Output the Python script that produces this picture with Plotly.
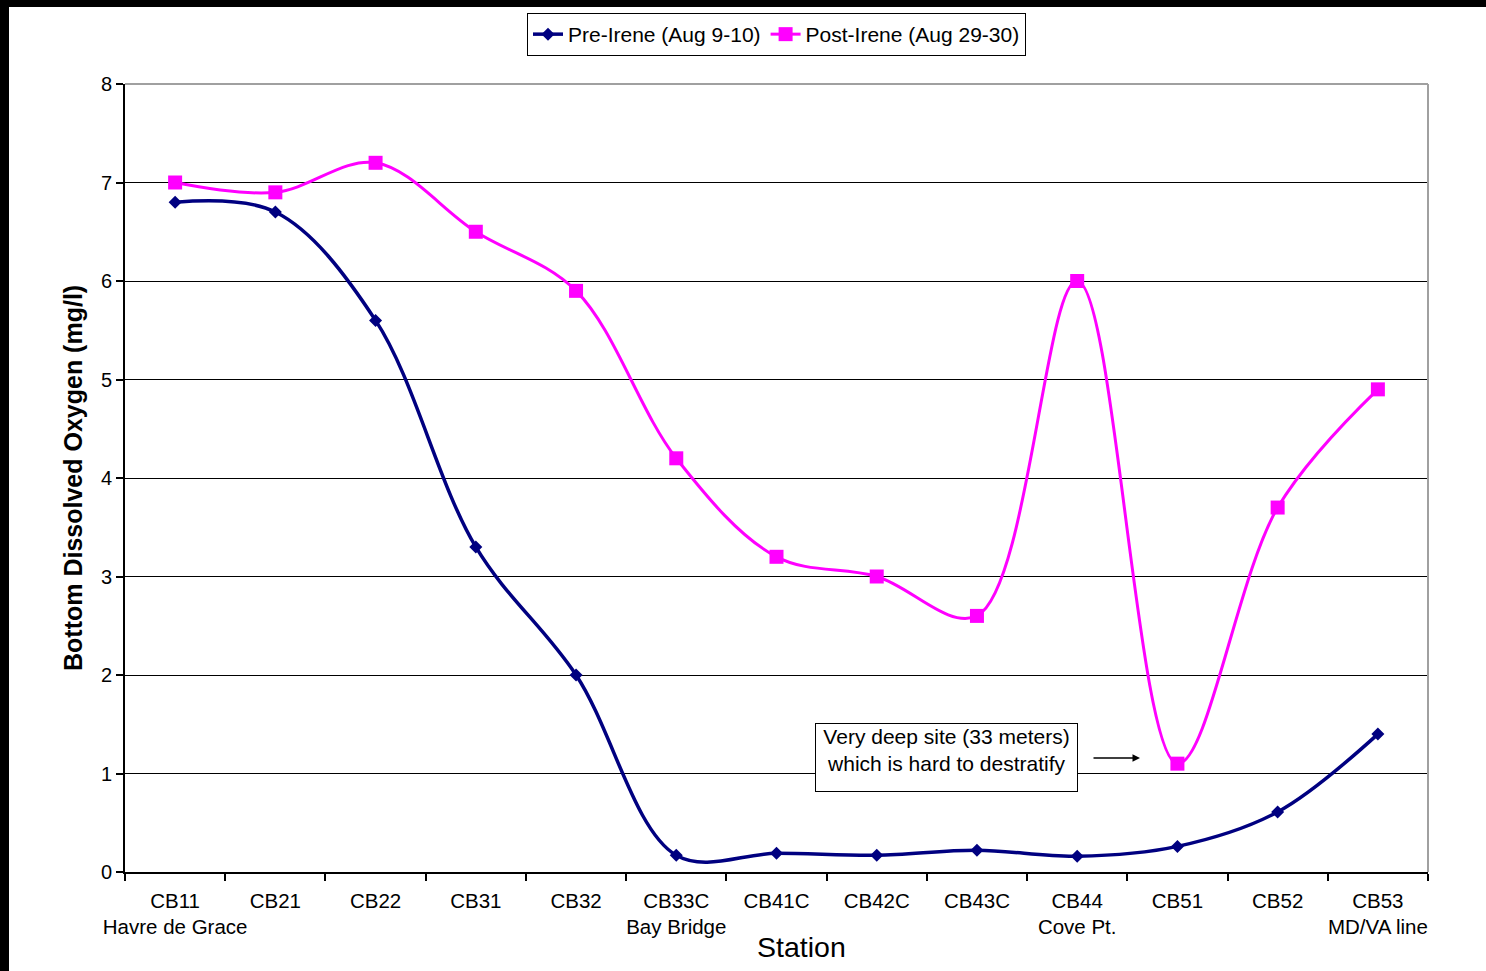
import plotly.graph_objects as go

stations = ["CB11", "CB21", "CB22", "CB31", "CB32", "CB33C", "CB41C", "CB42C",
            "CB43C", "CB44", "CB51", "CB52", "CB53"]
sublabels = ["Havre de Grace", "", "", "", "", "Bay Bridge", "", "", "", "Cove Pt.", "", "", "MD/VA line"]
pre_irene = [6.8, 6.7, 5.6, 3.3, 2.0, 0.17, 0.19, 0.17, 0.22, 0.16, 0.26, 0.61, 1.40]
post_irene = [7.0, 6.9, 7.2, 6.5, 5.9, 4.2, 3.2, 3.0, 2.6, 6.0, 1.1, 3.7, 4.9]
y_ticks = [0, 1, 2, 3, 4, 5, 6, 7, 8]

W, H = 1486, 971
L, R, T, B = 125, 58, 84, 99
PW, PH = W - L - R, H - T - B
FONT = "Liberation Sans, Arial, sans-serif"

ticktext = [s + "<br>" + (sub if sub else " ") for s, sub in zip(stations, sublabels)]

fig = go.Figure()
fig.add_trace(go.Scatter(
    x=stations, y=pre_irene, name="Pre-Irene (Aug 9-10)", mode="lines+markers",
    line=dict(color="#000080", width=3.5, shape="spline", smoothing=1.0),
    marker=dict(symbol="diamond", size=10, color="#000080"),
))
fig.add_trace(go.Scatter(
    x=stations, y=post_irene, name="Post-Irene (Aug 29-30)", mode="lines+markers",
    line=dict(color="#FF00FF", width=3, shape="spline", smoothing=1.0),
    marker=dict(symbol="square", size=14, color="#FF00FF"),
))

shapes = [
    dict(type="line", xref="paper", yref="paper", x0=0, x1=1, y0=1, y1=1,
         line=dict(color="#a0a0a0", width=2), layer="above"),
    dict(type="line", xref="paper", yref="paper", x0=1, x1=1, y0=0, y1=1,
         line=dict(color="#a0a0a0", width=2), layer="above"),
    dict(type="rect", xref="paper", yref="paper", x0=-L / PW, x1=(9 - L) / PW,
         y0=-B / PH, y1=(PH + T) / PH, fillcolor="black", line=dict(width=0)),
    dict(type="rect", xref="paper", yref="paper", x0=-L / PW, x1=(PW + R) / PW,
         y0=(PH + T - 7) / PH, y1=(PH + T) / PH, fillcolor="black", line=dict(width=0)),
]

annotations = [
    dict(xref="paper", yref="paper", x=0, y=0.5, xshift=-52, text="<b>Bottom Dissolved Oxygen (mg/l)</b>",
         textangle=-90, showarrow=False, font=dict(family=FONT, size=25, color="black"),
         xanchor="center", yanchor="middle"),
    dict(xref="paper", yref="paper", x=(801 - L) / PW, y=0, yshift=-75, text="Station",
         showarrow=False, font=dict(family=FONT, size=28.5, color="black"),
         xanchor="center", yanchor="middle"),
    dict(xref="paper", yref="paper", x=(946.5 - L) / PW, y=(H - B - 757.5) / PH,
         text="Very deep site (33 meters)<br>which is hard to destratify",
         showarrow=False, font=dict(family=FONT, size=21, color="black"),
         bgcolor="white", bordercolor="black", borderwidth=1,
         width=259, height=65, valign="top", align="center",
         xanchor="center", yanchor="middle"),
    dict(xref="paper", yref="paper", x=(1140 - L) / PW, y=(H - B - 758) / PH, text="",
         showarrow=True, ax=-48, ay=0, arrowhead=2, arrowsize=1, arrowwidth=1.5,
         arrowcolor="black"),
]

fig.update_layout(
    width=W, height=H,
    margin=dict(l=L, r=R, t=T, b=B),
    paper_bgcolor="white", plot_bgcolor="white",
    font=dict(family=FONT, size=20.5, color="black"),
    showlegend=True,
    legend=dict(orientation="h", x=0.5, xanchor="center", y=1 + (T - 13) / PH, yanchor="top",
                bgcolor="white", bordercolor="black", borderwidth=1,
                font=dict(family=FONT, size=21, color="black"),
                itemwidth=30, tracegroupgap=0),
    xaxis=dict(
        type="category", categoryorder="array", categoryarray=stations,
        range=[-0.5, len(stations) - 0.5], tickmode="array", tickvals=stations, ticktext=ticktext,
        tickson="boundaries", tickangle=0, automargin=False,
        showgrid=False, zeroline=False, showline=True, linecolor="black", linewidth=2,
        ticks="outside", ticklen=7, tickcolor="black", tickwidth=1.5,
        tickfont=dict(family=FONT, size=20.5, color="black"),
        ticklabelstandoff=9,
    ),
    yaxis=dict(
        range=[0, 8], tickmode="array", tickvals=y_ticks, automargin=False,
        showgrid=True, gridcolor="black", gridwidth=1,
        zeroline=False, showline=True, linecolor="black", linewidth=2,
        ticks="outside", ticklen=7, tickcolor="black", tickwidth=1.5,
        tickfont=dict(family=FONT, size=20, color="black"),
    ),
    shapes=shapes,
    annotations=annotations,
)

fig.write_html("out.html", config={"displayModeBar": False},
               post_script="document.body.style.margin='0';document.body.style.overflow='hidden';")
